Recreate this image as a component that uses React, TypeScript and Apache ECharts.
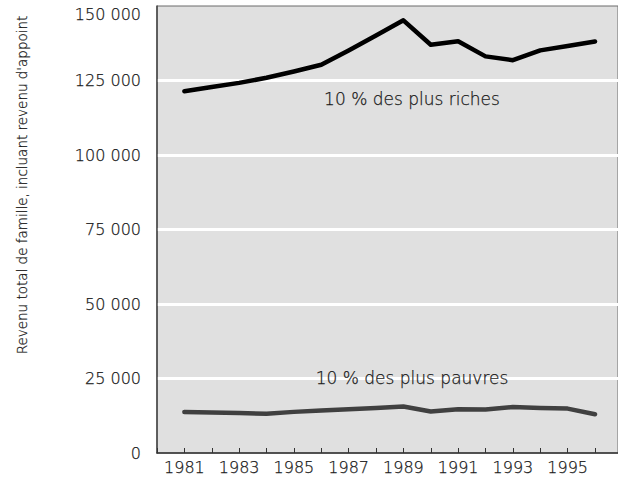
import React, { useEffect, useRef } from "react";
import * as echarts from "echarts";

const years = [1981, 1982, 1983, 1984, 1985, 1986, 1987, 1988, 1989, 1990, 1991, 1992, 1993, 1994, 1995, 1996];
const richest = [121400, 122800, 124200, 125900, 128000, 130300, 135100, 140100, 145200, 137000, 138200, 133100, 131800, 135100, 136600, 138100];
const poorest = [13800, 13600, 13400, 13200, 13800, 14300, 14700, 15100, 15600, 13900, 14700, 14600, 15400, 15100, 14900, 13000];
const yTicks = [0, 25000, 50000, 75000, 100000, 125000, 150000];
const xLabelYears = [1981, 1983, 1985, 1987, 1989, 1991, 1993, 1995];
const yTitle = "Revenu total de famille, incluant revenu d'appoint";
const richLabel = "10 % des plus riches";
const poorLabel = "10 % des plus pauvres";

const FONT = "'DejaVu Sans', sans-serif";
const W = 200;
const TXT = "#1a1a1a";
const SW = 0.25;

export default function App() {
  const ref = useRef<HTMLDivElement>(null);
  useEffect(() => {
    document.body.style.margin = "0";
    const chart = echarts.init(ref.current!, null, { renderer: "svg" });
    const fmt = (v: number) => {
      const s = String(Math.round(v));
      return s.replace(/\B(?=(\d{3})+(?!\d))/g, " ");
    };
    const labelStyle = {
      fontFamily: FONT,
      fontWeight: W,
      fontSize: 16,
      color: TXT,
      textBorderColor: TXT,
      textBorderWidth: SW,
    };
    const gText = (size: number) => ({
      fontFamily: FONT,
      fontWeight: W,
      fontSize: size,
      fill: TXT,
      stroke: TXT,
      lineWidth: SW,
      align: "center",
      verticalAlign: "middle",
    });
    chart.setOption({
      animation: false,
      backgroundColor: "#ffffff",
      grid: {
        left: 157,
        right: -2,
        top: 6,
        bottom: 29,
        show: true,
        backgroundColor: "#e0e0e0",
        borderColor: "#6a6a6a",
        borderWidth: 1,
      },
      xAxis: {
        type: "value",
        min: 1980,
        max: 1996.84,
        interval: 1,
        axisLine: { show: true, lineStyle: { color: "#333", width: 1.5 } },
        axisTick: { show: true, inside: true, length: 5, lineStyle: { color: "#333", width: 1 } },
        splitLine: { show: false },
        axisLabel: {
          ...labelStyle,
          margin: 6,
          showMaxLabel: false,
          formatter: (v: number) => (xLabelYears.includes(Math.round(v * 100) / 100) ? String(v) : ""),
        },
      },
      yAxis: {
        type: "value",
        min: yTicks[0],
        max: yTicks[yTicks.length - 1],
        interval: 25000,
        axisLine: { show: true, lineStyle: { color: "#444", width: 1.5 } },
        axisTick: { show: false },
        splitLine: { show: true, showMinLine: false, showMaxLine: false, lineStyle: { color: "#ffffff", width: 3 } },
        axisLabel: {
          ...labelStyle,
          margin: 16,
          verticalAlignMaxLabel: "top",
          formatter: (v: number) => fmt(v),
        },
      },
      series: [
        {
          type: "line",
          data: years.map((y, i) => [y, richest[i]]),
          showSymbol: false,
          lineStyle: { color: "#000000", width: 4.5, join: "round", cap: "round" },
          z: 3,
        },
        {
          type: "line",
          data: years.map((y, i) => [y, poorest[i]]),
          showSymbol: false,
          lineStyle: { color: "#404040", width: 4.5, join: "round", cap: "round" },
          z: 3,
        },
      ],
      graphic: [
        {
          type: "text",
          x: 22,
          y: 185,
          rotation: Math.PI / 2,
          style: { ...gText(13.5), text: yTitle },
        },
        {
          type: "text",
          x: 412,
          y: 99,
          z: 10,
          style: { ...gText(17), text: richLabel },
        },
        {
          type: "text",
          x: 412,
          y: 378,
          z: 10,
          style: { ...gText(17), text: poorLabel },
        },
      ],
    });
    return () => chart.dispose();
  }, []);
  return <div ref={ref} style={{ width: 618, height: 482 }} />;
}
